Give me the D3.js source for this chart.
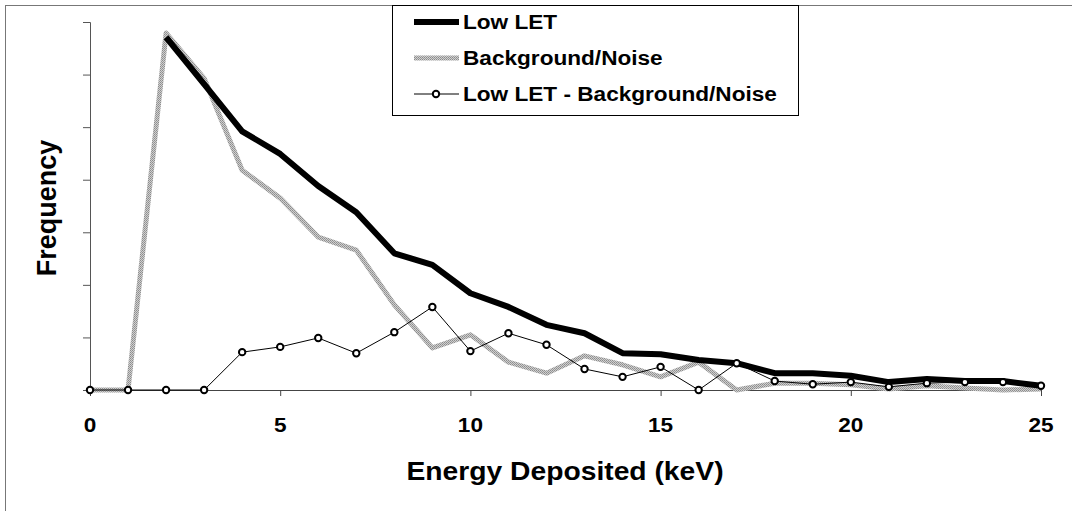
<!DOCTYPE html>
<html>
<head>
<meta charset="utf-8">
<script src="https://cdn.jsdelivr.net/npm/d3@7"></script>
<style>
  body { margin: 0; background: #fff; }
  text { font-family: "Liberation Sans", Arial, sans-serif; font-weight: bold; fill: #000; }
</style>
</head>
<body>
<div id="chart"></div>
<script>
// Energy bins (keV)
var energy = d3.range(0, 26);
// Low LET (null where not plotted)
var lowLET = [null, null, 671, 582, 492, 449, 388, 338, 260, 238, 184, 158, 124, 108, 70, 68, 57, 51, 32, 32, 27, 15, 21, 17, 17, 8];
// Background/Noise
var background = [0, 0, 679, 593, 418, 365, 291, 266, 162, 80, 105, 53, 32, 65, 48, 25, 53, 0, 13, 13, 10, 2, 8, 4, 0, 2];
// Low LET - Background/Noise
var difference = [0, 0, 0, 0, 72, 82, 99, 70, 110, 158, 74, 108, 86, 40, 25, 44, 0, 51, 17, 11, 15, 6, 13, 15, 15, 8];
var xTicks = [0, 5, 10, 15, 20, 25];
var yTicks = [0, 100, 200, 300, 400, 500, 600, 700];
var seriesNames = ["Low LET", "Background/Noise", "Low LET - Background/Noise"];

var width = 1072, height = 511;
var stretch = 1.13; // scanned text is a bit wider than normal

var svg = d3.select("#chart").append("svg")
  .attr("width", width)
  .attr("height", height);

// halftone-ish grey used for the background series
var pat = svg.append("defs").append("pattern")
  .attr("id", "halftone")
  .attr("patternUnits", "userSpaceOnUse")
  .attr("width", 2).attr("height", 2);
pat.append("rect").attr("width", 2).attr("height", 2).attr("fill", "#cfcfcf");
pat.append("rect").attr("width", 1).attr("height", 1).attr("fill", "#8c8c8c");
pat.append("rect").attr("x", 1).attr("y", 1).attr("width", 1).attr("height", 1).attr("fill", "#9a9a9a");

// outer frame (only left and top edges fall inside the picture)
svg.append("rect")
  .attr("x", 5.5).attr("y", 5.5)
  .attr("width", width + 10).attr("height", height + 10)
  .attr("fill", "none")
  .attr("stroke", "#777")
  .attr("stroke-width", 1);

var x = d3.scaleLinear().domain([0, 25]).range([90, 1041]);
var y = d3.scaleLinear().domain([0, 700]).range([390, 22]);

// axes
svg.append("g")
  .attr("transform", "translate(0," + y(0) + ")")
  .call(d3.axisBottom(x).tickValues(xTicks).tickSize(6).tickFormat(""))
  .call(function (g) {
    g.select(".domain").attr("stroke", "#444");
    g.selectAll(".tick line").attr("stroke", "#444");
  });

svg.append("g")
  .attr("transform", "translate(" + x(0) + ",0)")
  .call(d3.axisLeft(y).tickValues(yTicks).tickSize(7).tickFormat(""))
  .call(function (g) {
    g.select(".domain").attr("stroke", "#555");
    g.selectAll(".tick line").attr("stroke", "#555");
  });

// helper to widen text like the scan
function widen(sel) {
  sel.each(function () {
    var w = this.getComputedTextLength();
    d3.select(this).attr("textLength", w * stretch).attr("lengthAdjust", "spacingAndGlyphs");
  });
}

// x tick labels
svg.append("g").selectAll("text")
  .data(xTicks)
  .enter().append("text")
  .attr("x", function (d) { return x(d); })
  .attr("y", 432)
  .attr("text-anchor", "middle")
  .style("font-size", "20px")
  .text(function (d) { return d; })
  .call(widen);

// axis titles
svg.append("text")
  .attr("x", 565)
  .attr("y", 480)
  .attr("text-anchor", "middle")
  .style("font-size", "25px")
  .text("Energy Deposited (keV)")
  .call(widen);

svg.append("text")
  .attr("transform", "translate(56,208) rotate(-90)")
  .attr("text-anchor", "middle")
  .style("font-size", "27px")
  .text("Frequency");

// lines
var line = function (vals) {
  return d3.line()
    .defined(function (d, i) { return vals[i] !== null; })
    .x(function (d, i) { return x(energy[i]); })
    .y(function (d, i) { return y(vals[i]); })(vals);
};

svg.append("path")
  .attr("d", line(background))
  .attr("fill", "none")
  .attr("stroke", "url(#halftone)")
  .attr("stroke-width", 5)
  .attr("stroke-linejoin", "round");

svg.append("path")
  .attr("d", line(lowLET))
  .attr("fill", "none")
  .attr("stroke", "#000")
  .attr("stroke-width", 6)
  .attr("stroke-linejoin", "round");

svg.append("path")
  .attr("d", line(difference))
  .attr("fill", "none")
  .attr("stroke", "#000")
  .attr("stroke-width", 1);

svg.append("g").selectAll("circle")
  .data(difference)
  .enter().append("circle")
  .attr("cx", function (d, i) { return x(energy[i]); })
  .attr("cy", function (d) { return y(d); })
  .attr("r", 3.2)
  .attr("fill", "#fff")
  .attr("stroke", "#000")
  .attr("stroke-width", 2);

// legend
var legend = svg.append("g");
legend.append("rect")
  .attr("x", 392.5).attr("y", 5.5)
  .attr("width", 406).attr("height", 110)
  .attr("fill", "#fff")
  .attr("stroke", "#000")
  .attr("stroke-width", 1);

var items = legend.selectAll(".item")
  .data(seriesNames)
  .enter().append("g")
  .attr("class", "item")
  .attr("transform", function (d, i) { return "translate(0," + (29 + i * 36) + ")"; });

items.append("line")
  .attr("x1", 414).attr("x2", 459)
  .attr("y1", -7).attr("y2", -7)
  .attr("stroke", function (d, i) { return i === 1 ? "url(#halftone)" : "#000"; })
  .attr("stroke-width", function (d, i) { return i === 0 ? 6 : (i === 1 ? 5 : 1); });

items.filter(function (d, i) { return i === 2; })
  .append("circle")
  .attr("cx", 436).attr("cy", -7)
  .attr("r", 3.2)
  .attr("fill", "#fff")
  .attr("stroke", "#000")
  .attr("stroke-width", 2);

items.append("text")
  .attr("x", 463)
  .attr("y", 0)
  .style("font-size", "20px")
  .text(function (d) { return d; })
  .call(widen);
</script>
</body>
</html>
